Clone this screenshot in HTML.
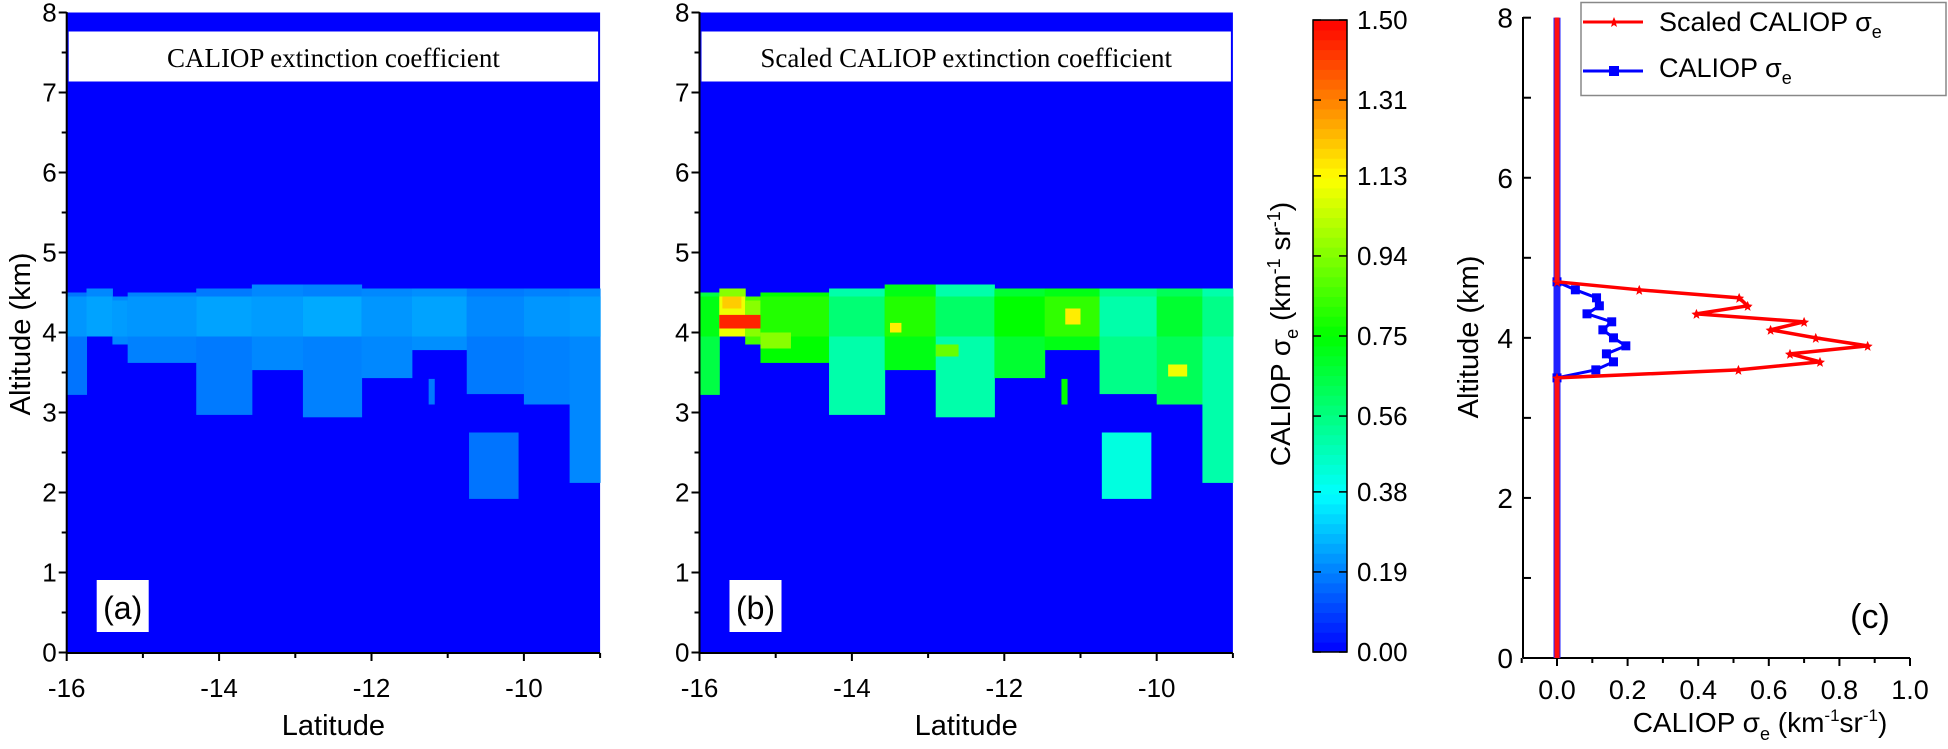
<!DOCTYPE html>
<html><head><meta charset="utf-8"><style>
body{margin:0;background:#fff}
svg{display:block;font-family:"Liberation Sans",sans-serif}
</style></head><body>
<svg id="fig" width="1948" height="749" viewBox="0 0 1948 749"></svg>
<script>
// ---- heatmap data (columns of cloud layer) ----
const colLatStart=[-16.0,-15.74,-15.4,-15.2,-14.3,-13.57,-12.9,-12.13,-11.47,-10.75,-10.0,-9.4];
const colLatEnd=[-15.74,-15.4,-15.2,-14.3,-13.57,-12.9,-12.13,-11.47,-10.75,-10.0,-9.4,-9.0];
const colAltBottom=[3.22,3.95,3.85,3.62,2.97,3.53,2.94,3.43,3.78,3.23,3.1,2.12];
const colAltTop=[4.5,4.55,4.45,4.5,4.55,4.6,4.6,4.55,4.55,4.55,4.55,4.55];
const valuesA=[0.17,0.2,0.2,0.19,0.18,0.2,0.19,0.2,0.21,0.18,0.19,0.2];
const valuesB=[0.65,0.95,0.85,0.75,0.5,0.72,0.5,0.68,0.72,0.55,0.62,0.5];
// upper band (3.95-4.45 km) values per column
const upperValA=[0.22,0.24,0.23,0.22,0.24,0.23,0.25,0.22,0.24,0.2,0.22,0.23];
const upperValB=[0.72,1.1,0.95,0.8,0.58,0.8,0.6,0.75,0.82,0.5,0.68,0.55];
// extra patches [latStart, latEnd, altBottom, altTop]
const patchLat0=[-11.25,-10.72];
const patchLat1=[-11.17,-10.07];
const patchAlt0=[3.1,1.92];
const patchAlt1=[3.42,2.75];
const patchValA=[0.18,0.17];
const patchValB=[0.75,0.42];
// hotspots in scaled panel
const hotLat0=[-15.74,-15.7,-13.5,-11.2,-9.85,-15.2,-12.9];
const hotLat1=[-15.2,-15.45,-13.35,-11.0,-9.6,-14.8,-12.6];
const hotAlt0=[4.05,4.3,4.0,4.1,3.45,3.8,3.7];
const hotAlt1=[4.22,4.45,4.12,4.3,3.6,4.0,3.85];
const hotVal=[1.45,1.2,1.15,1.15,1.1,0.95,0.9];
// ---- profile data ----
const profAlt=[3.5,3.6,3.7,3.8,3.9,4.0,4.1,4.2,4.3,4.4,4.5,4.6,4.7];
const profScaled=[0,0.514,0.745,0.66,0.88,0.733,0.605,0.70,0.395,0.54,0.516,0.233,0];
const profCaliop=[0,0.11,0.16,0.14,0.195,0.16,0.13,0.155,0.085,0.12,0.112,0.052,0];
const cbTicks=["0.00","0.19","0.38","0.56","0.75","0.94","1.13","1.31","1.50"];

const NS="http://www.w3.org/2000/svg";
const svg=document.getElementById('fig');
function mk(tag,attrs,parent,txt){const e=document.createElementNS(NS,tag);for(const k in attrs)e.setAttribute(k,attrs[k]);if(txt!==undefined)e.textContent=txt;(parent||svg).appendChild(e);return e;}
function jet(v){let t=Math.max(0,Math.min(1,v/1.5));let r,g,b;
 if(t<.25){r=0;g=4*t;b=1}else if(t<.5){r=0;g=1;b=1-4*(t-.25)}else if(t<.75){r=4*(t-.5);g=1;b=0}else{r=1;g=1-4*(t-.75);b=0}
 return `rgb(${Math.round(r*255)},${Math.round(g*255)},${Math.round(b*255)})`;}
const yAlt=a=>652.5-a*80;

function heatPanel(x0,vals,uvals,pvals,scaled,titleTxt,lbl,name){
 const xLat=l=>x0+(l+16)*76.2;
 const g=mk('g',{},svg);
 
 
 const bg=mk('rect',{x:x0,y:12.5,width:xLat(-9)-x0,height:640,fill:jet(0)},g);
 
 for(let i=0;i<colLatStart.length;i++){
  const r=mk('rect',{x:xLat(colLatStart[i]),y:yAlt(colAltTop[i]),width:xLat(colLatEnd[i])-xLat(colLatStart[i])+0.5,height:yAlt(colAltBottom[i])-yAlt(colAltTop[i]),fill:jet(vals[i])},g);
  
  
  const top=Math.min(4.45,colAltTop[i]-0.05),bot=Math.max(3.95,colAltBottom[i]);
  if(top>bot){
   const u=mk('rect',{x:xLat(colLatStart[i]),y:yAlt(top),width:xLat(colLatEnd[i])-xLat(colLatStart[i])+0.5,height:yAlt(bot)-yAlt(top),fill:jet(uvals[i])},g);
   
   
  }
 }
 for(let i=0;i<patchLat0.length;i++){
  const r=mk('rect',{x:xLat(patchLat0[i]),y:yAlt(patchAlt1[i]),width:xLat(patchLat1[i])-xLat(patchLat0[i]),height:yAlt(patchAlt0[i])-yAlt(patchAlt1[i]),fill:jet(pvals[i])},g);
  
  
 }
 if(scaled){for(let i=0;i<hotLat0.length;i++){
  const r=mk('rect',{x:xLat(hotLat0[i]),y:yAlt(hotAlt1[i]),width:xLat(hotLat1[i])-xLat(hotLat0[i]),height:yAlt(hotAlt0[i])-yAlt(hotAlt1[i]),fill:jet(hotVal[i])},g);
  
  
 }}
 const tb=mk('rect',{x:x0+2,y:31.5,width:xLat(-9)-x0-4,height:50,fill:'#fff'},g);
 
 const tt=mk('text',{x:(x0+xLat(-9))/2,y:67,'text-anchor':'middle','font-family':'Liberation Serif, serif','font-size':27},g,titleTxt);
 
 const lb=mk('rect',{x:x0+30,y:580,width:52,height:52,fill:'#fff'},g);
 
 const lt=mk('text',{x:x0+56,y:619,'text-anchor':'middle','font-size':32},g,lbl);
 
 mk('line',{x1:x0,y1:12,x2:x0,y2:653,stroke:'#000','stroke-width':2},g);
 mk('line',{x1:x0,y1:653,x2:xLat(-9),y2:653,stroke:'#000','stroke-width':2},g);
 for(let a=0;a<=8;a+=0.5){const maj=a%1===0;mk('line',{x1:x0,y1:yAlt(a),x2:x0-(maj?8:5),y2:yAlt(a),stroke:'#000','stroke-width':2},g);
  if(maj){const t=mk('text',{x:x0-10,y:yAlt(a)+9,'text-anchor':'end','font-size':26},g,String(a));}}
 for(let l=-16;l<=-9;l++){const maj=l%2===0;mk('line',{x1:xLat(l),y1:653,x2:xLat(l),y2:653+(maj?8:5),stroke:'#000','stroke-width':2},g);
  if(maj){const t=mk('text',{x:xLat(l),y:697,'text-anchor':'middle','font-size':26},g,String(l));}}
 const xl=mk('text',{x:(x0+xLat(-9))/2,y:735,'text-anchor':'middle','font-size':29},g,'Latitude');
 
}
heatPanel(66.7,valuesA,upperValA,patchValA,false,'CALIOP extinction coefficient','(a)','panel-a');
heatPanel(699.5,valuesB,upperValB,patchValB,true,'Scaled CALIOP extinction coefficient','(b)','panel-b');
const yl=mk('text',{x:0,y:0,transform:'translate(30,334) rotate(-90)','text-anchor':'middle','font-size':29},svg,'Altitude (km)');


// colorbar
const cb=mk('g',{},svg);

const cbY=v=>652-v*(632/1.5);
for(let i=0;i<64;i++){const v0=i*1.5/64,v1=(i+1)*1.5/64;mk('rect',{x:1313,y:cbY(v1),width:34,height:cbY(v0)-cbY(v1)+0.5,fill:jet((v0+v1)/2)},cb);}
mk('rect',{x:1313,y:20,width:34,height:632,fill:'none',stroke:'#000','stroke-width':1.5},cb);
for(let i=0;i<cbTicks.length;i++){const v=parseFloat(cbTicks[i]);const y=cbY(v);
 mk('line',{x1:1313,y1:y,x2:1321,y2:y,stroke:'#000','stroke-width':1.5},cb);mk('line',{x1:1339,y1:y,x2:1347,y2:y,stroke:'#000','stroke-width':1.5},cb);
 const t=mk('text',{x:1357,y:y+9,'font-size':26},cb,cbTicks[i]);}
const cl=mk('text',{x:0,y:0,transform:'translate(1290,334) rotate(-90)','text-anchor':'middle','font-size':28},svg);

cl.innerHTML='CALIOP σ<tspan font-size="18" dy="8">e</tspan><tspan dy="-8"> (km</tspan><tspan font-size="18" dy="-10">-1</tspan><tspan dy="10"> sr</tspan><tspan font-size="18" dy="-10">-1</tspan><tspan dy="10">)</tspan>';

// panel c
const pc=mk('g',{},svg);

const cx=v=>1557+v*353, cy=a=>658-a*80.04;
mk('line',{x1:1523,y1:17,x2:1523,y2:658,stroke:'#000','stroke-width':2},pc);
mk('line',{x1:1523,y1:658,x2:1910,y2:658,stroke:'#000','stroke-width':2},pc);
for(let a=0;a<=8;a++){const maj=a%2===0;mk('line',{x1:1523,y1:cy(a),x2:1531,y2:cy(a),stroke:'#000','stroke-width':2},pc);
 if(maj){const t=mk('text',{x:1513,y:cy(a)+10,'text-anchor':'end','font-size':28},pc,String(a));}}
for(let k=-1;k<=10;k++){const v=k/10;const maj=k>=0&&k%2===0;mk('line',{x1:cx(v),y1:658,x2:cx(v),y2:658+(maj?8:5),stroke:'#000','stroke-width':2},pc);
 if(maj){const t=mk('text',{x:cx(v),y:699,'text-anchor':'middle','font-size':27},pc,v.toFixed(1));}}
const cyl=mk('text',{x:0,y:0,transform:'translate(1478,337) rotate(-90)','text-anchor':'middle','font-size':29},svg,'Altitude (km)');

const cxl=mk('text',{x:1760,y:732,'text-anchor':'middle','font-size':28},svg);

cxl.innerHTML='CALIOP σ<tspan font-size="18" dy="8">e</tspan><tspan dy="-8"> (km</tspan><tspan font-size="17" dy="-11">-1</tspan><tspan dy="11">sr</tspan><tspan font-size="17" dy="-11">-1</tspan><tspan dy="11">)</tspan>';
function star(x,y,p,col){const s=mk('path',{d:`M${x},${y-5}L${x+1.5},${y-1.5}L${x+5},${y-1}L${x+2},${y+1.5}L${x+3},${y+5}L${x},${y+3}L${x-3},${y+5}L${x-2},${y+1.5}L${x-5},${y-1}L${x-1.5},${y-1.5}Z`,fill:col},p);return s;}
function series(vals,col,marker,name){
 const g=mk('g',{},pc);
 let pts=[[cx(0),cy(8)],[cx(0),cy(profAlt[profAlt.length-1])]];
 for(let i=profAlt.length-1;i>=0;i--)pts.push([cx(vals[i]),cy(profAlt[i])]);
 pts.push([cx(0),cy(0)]);
 const l=mk('polyline',{points:pts.map(p=>p.join(',')).join(' '),fill:'none',stroke:col,'stroke-width':marker==='sq'?3:3.5},g);
 
 for(let i=0;i<profAlt.length;i++){const x=cx(vals[i]),y=cy(profAlt[i]);
  const m=marker==='sq'?mk('rect',{x:x-4.5,y:y-4.5,width:9,height:9,fill:col},g):star(x,y,g,col);
  }
}
mk('rect',{x:cx(0)-3.5,y:cy(8),width:7,height:cy(0)-cy(8),fill:'#2020ff'},pc);
series(profCaliop,'#0000ff','sq','caliop-series');
series(profScaled,'#ff0000','star','scaled-series');
mk('rect',{x:cx(0)-2.5,y:cy(8),width:5,height:cy(profAlt[profAlt.length-1])-cy(8),fill:'#ff1010'},pc);
mk('rect',{x:cx(0)-2.5,y:cy(3.5),width:5,height:cy(0)-cy(3.5),fill:'#ff1010'},pc);
const cL=mk('text',{x:1870,y:628,'text-anchor':'middle','font-size':34},pc,'(c)');

// legend
const lg=mk('g',{},svg);
mk('rect',{x:1581,y:2.5,width:365,height:93,fill:'#fff',stroke:'#888','stroke-width':1.5},lg);
mk('line',{x1:1583,y1:22,x2:1643,y2:22,stroke:'#f00','stroke-width':3},lg);star(1614,22,lg,'#f00');
mk('line',{x1:1583,y1:71,x2:1643,y2:71,stroke:'#00f','stroke-width':3},lg);mk('rect',{x:1609,y:66,width:10,height:10,fill:'#00f'},lg);
const e1=mk('text',{x:1659,y:31,'font-size':27},lg);
e1.innerHTML='Scaled CALIOP σ<tspan font-size="18" dy="7">e</tspan>';
const e2=mk('text',{x:1659,y:77,'font-size':27},lg);
e2.innerHTML='CALIOP σ<tspan font-size="18" dy="7">e</tspan>';
</script>
</body></html>
